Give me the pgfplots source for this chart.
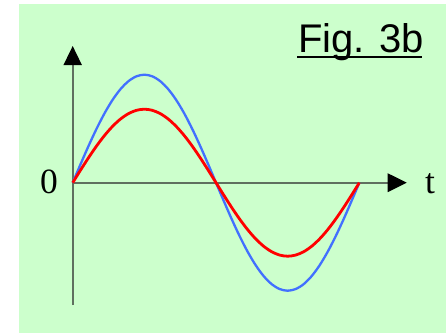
\documentclass[border=0pt]{standalone}
\usepackage{pgfplots}
\pgfplotsset{compat=1.18}
\usepackage{fontspec}
\setmainfont{Liberation Serif}
\newfontfamily\arial{Liberation Sans}
\usetikzlibrary{arrows.meta}
\definecolor{bg}{HTML}{CCFFCC}
\definecolor{axcol}{HTML}{5F705F}
\definecolor{bluec}{HTML}{4270FF}
\begin{document}
\begin{tikzpicture}
\fill[white] (0pt,0pt) rectangle (446pt,333pt);
\useasboundingbox (0pt,0pt) rectangle (446pt,333pt);
\fill[bg] (19pt,0.3pt) rectangle (446pt,329pt);
\begin{axis}[
  at={(72.7pt,28pt)}, anchor=south west,
  scale only axis, width=334pt, height=259pt,
  xmin=0, xmax=419.5, ymin=-122.3, ymax=136.7,
  enlargelimits=false,
  axis lines=middle,
  xtick=\empty, ytick=\empty,
  axis line style={axcol, line width=1.7pt},
  x axis line style={-{Triangle[length=19pt,width=18.5pt,black]}},
  y axis line style={-{Triangle[length=19pt,width=18pt,black]}},
  clip=false,
]
\addplot[bluec, line width=2.3pt, smooth] coordinates {
(0,0) (10,18.75) (20,36.94) (30,54) (40,69.42) (50,82.73) (60,93.53) (70,101.49) (80,106.36) (90,108)
(100,106.36) (110,101.49) (120,93.53) (130,82.73) (140,69.42) (150,54) (160,36.94) (170,18.75) (180,0)
(190,-18.75) (200,-36.94) (210,-54) (220,-69.42) (230,-82.73) (240,-93.53) (250,-101.49) (260,-106.36) (270,-108)
(280,-106.36) (290,-101.49) (300,-93.53) (310,-82.73) (320,-69.42) (330,-54) (340,-36.94) (350,-18.75) (360,0)
};
\addplot[red, line width=2.8pt, smooth] coordinates {
(0,0) (10,12.76) (20,25.14) (30,36.75) (40,47.25) (50,56.30) (60,63.65) (70,69.07) (80,72.38) (90,73.5)
(100,72.38) (110,69.07) (120,63.65) (130,56.30) (140,47.25) (150,36.75) (160,25.14) (170,12.76) (180,0)
(190,-12.76) (200,-25.14) (210,-36.75) (220,-47.25) (230,-56.30) (240,-63.65) (250,-69.07) (260,-72.38) (270,-73.5)
(280,-72.38) (290,-69.07) (300,-63.65) (310,-56.30) (320,-47.25) (330,-36.75) (340,-25.14) (350,-12.76) (360,0)
};
\end{axis}
\node[anchor=base, inner sep=0pt, font=\fontsize{35.5}{40}\selectfont] at (49pt,140pt) {0};
\node[anchor=base, inner sep=0pt, font=\fontsize{35.5}{40}\selectfont] at (430pt,140pt) {t};
\node[anchor=base west, inner sep=0pt, font=\arial\fontsize{40}{46}\selectfont] at (298pt,281pt) {Fig. 3b};
\draw[black, line width=2pt] (297pt,276pt) -- (422pt,276pt);
\end{tikzpicture}
\end{document}
